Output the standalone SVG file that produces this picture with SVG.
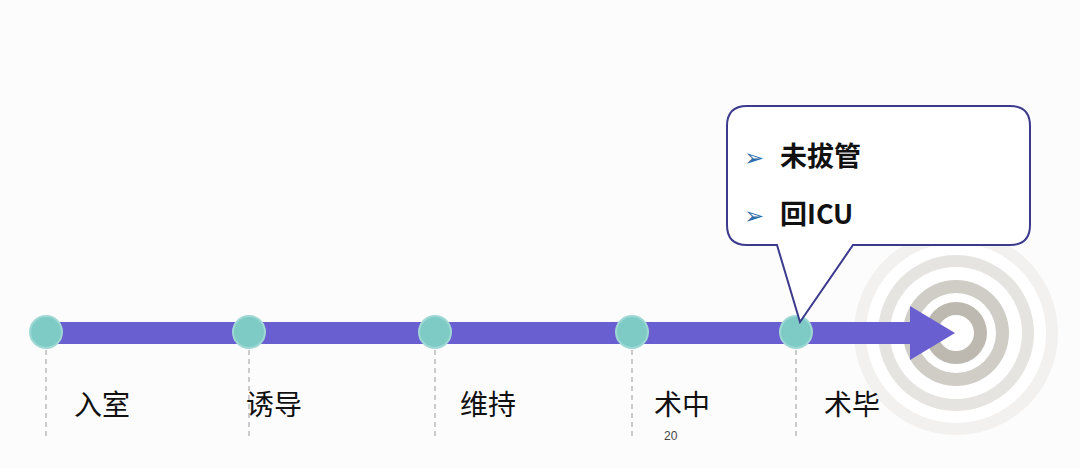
<svg xmlns="http://www.w3.org/2000/svg" width="1080" height="468" viewBox="0 0 1080 468">
<style>
.lbl{font-family:"Noto Sans CJK SC","Liberation Sans",sans-serif;font-size:28px;fill:#111}
.bul{font-family:"Noto Sans CJK SC","Liberation Sans",sans-serif;font-size:27px;font-weight:bold;fill:#111}
.arr{font-family:"DejaVu Sans",sans-serif;font-size:24px;fill:#2f6ea8}
.dash{stroke:#bbb;stroke-width:1.5;stroke-dasharray:5 4}
.node{fill:#7ecbc6;stroke:#9fd8d4;stroke-width:2}
</style>
<rect width="1080" height="468" fill="#fcfcfd"/>
<g id="target">
<circle cx="956" cy="333" r="102" fill="#f2f1f0"/>
<circle cx="956" cy="333" r="90" fill="#fff"/>
<circle cx="956" cy="333" r="78" fill="#e6e4e0"/>
<circle cx="956" cy="333" r="66" fill="#fff"/>
<circle cx="956" cy="333" r="53" fill="#d0cdc7"/>
<circle cx="956" cy="333" r="40" fill="#fff"/>
<circle cx="956" cy="333" r="31" fill="#bdb9b1"/>
<circle cx="956" cy="333" r="18" fill="#fff"/>
</g>
<g id="connectors">
<polygon points="46,322 910,322 910,306 955,333 910,360 910,344 46,344" fill="#6a5fd0"/>
<line class="dash" x1="46" y1="350" x2="46" y2="440"/>
<line class="dash" x1="249" y1="350" x2="249" y2="440"/>
<line class="dash" x1="435" y1="350" x2="435" y2="440"/>
<line class="dash" x1="632" y1="350" x2="632" y2="440"/>
<line class="dash" x1="796" y1="350" x2="796" y2="440"/>
</g>
<g id="n1"><circle class="node" cx="46" cy="332" r="16"/><text class="lbl" x="74" y="415">入室</text></g>
<g id="n2"><circle class="node" cx="249" cy="332" r="16"/><text class="lbl" x="246" y="415">诱导</text></g>
<g id="n3"><circle class="node" cx="435" cy="332" r="16"/><text class="lbl" x="460" y="415">维持</text></g>
<g id="n4"><circle class="node" cx="632" cy="332" r="16"/><text class="lbl" x="654" y="415">术中</text></g>
<g id="n5"><circle class="node" cx="796" cy="332" r="16"/><text class="lbl" x="824" y="415">术毕</text></g>
<text x="664" y="440" font-family="Liberation Sans,sans-serif" font-size="12" fill="#444">20</text>
<g id="callout">
<path d="M747,106 H1010 Q1030,106 1030,126 V225 Q1030,245 1010,245 H853 L800,322 L777,245 H747 Q727,245 727,225 V126 Q727,106 747,106 Z" fill="#fff" stroke="#3c3a8c" stroke-width="2"/>
<text class="arr" x="744" y="166">➢</text>
<text class="bul" x="780" y="166">未拔管</text>
<text class="arr" x="744" y="224">➢</text>
<text class="bul" x="780" y="224">回ICU</text>
</g>
</svg>
